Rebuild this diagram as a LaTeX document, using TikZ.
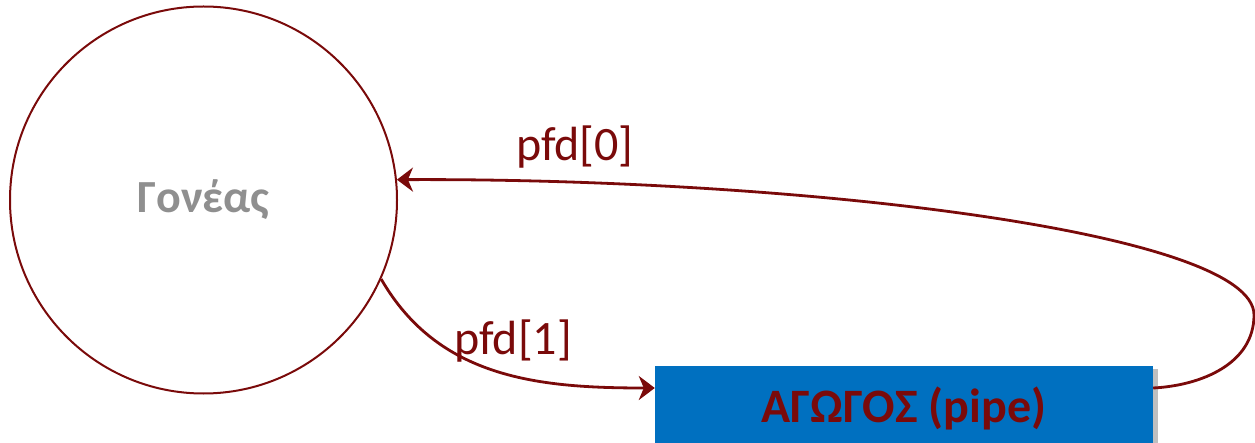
\documentclass[tikz,border=0pt]{standalone}
\usepackage{fontspec}
\setmainfont{Carlito}
\usetikzlibrary{positioning,arrows.meta,shadows}
\definecolor{arrred}{HTML}{7A0A0A}
\definecolor{pipeblue}{HTML}{0070C0}
\definecolor{softgray}{HTML}{8F8F8F}

\begin{document}
\begin{tikzpicture}[
        x=1pt, y=1pt,
        >={Stealth[length=16pt, width=24pt, inset=5pt]},
        proc/.style={draw=arrred, line width=2pt, circle, minimum size=387pt, inner sep=0pt,
                     font=\fontsize{46}{52}\selectfont\bfseries, text=softgray},
        pipebox/.style={fill=pipeblue, minimum width=498pt, minimum height=84pt, inner sep=0pt,
                        font=\fontsize{48}{54}\selectfont\bfseries, text=arrred,
                        drop shadow={opacity=0.5, shadow xshift=5pt, shadow yshift=-3pt}},
        flow/.style={->, draw=arrred, line width=2.8pt},
        lbl/.style={font=\fontsize{48}{54}\selectfont, text=arrred}
    ]
        \useasboundingbox (0,0) rectangle (1255,442);

        \node[proc] (parent) at (203.5,242) {Γονέας};
        \node[pipebox] (pipe) at (904,34) {ΑΓΩΓΟΣ (pipe)};

        % pfd[1]: απο τον γονεα προς τον αγωγο
        \draw[flow] (parent.-24) to[out=-60, in=180]
              node[pos=0.5, above=4pt, xshift=17pt, lbl] {pfd[1]} ([yshift=20pt]pipe.west);

        % pfd[0]: επιστροφη απο τον αγωγο στον γονεα
        \coordinate (turn) at (1254,127);
        \draw[flow] ([yshift=20pt]pipe.east) to[out=3, in=-90] (turn)
              .. controls (1254,210) and (800,264) ..
              node[pos=0.9, above=8pt, xshift=56pt, lbl] {pfd[0]} (parent.6);
    \end{tikzpicture}
\end{document}
